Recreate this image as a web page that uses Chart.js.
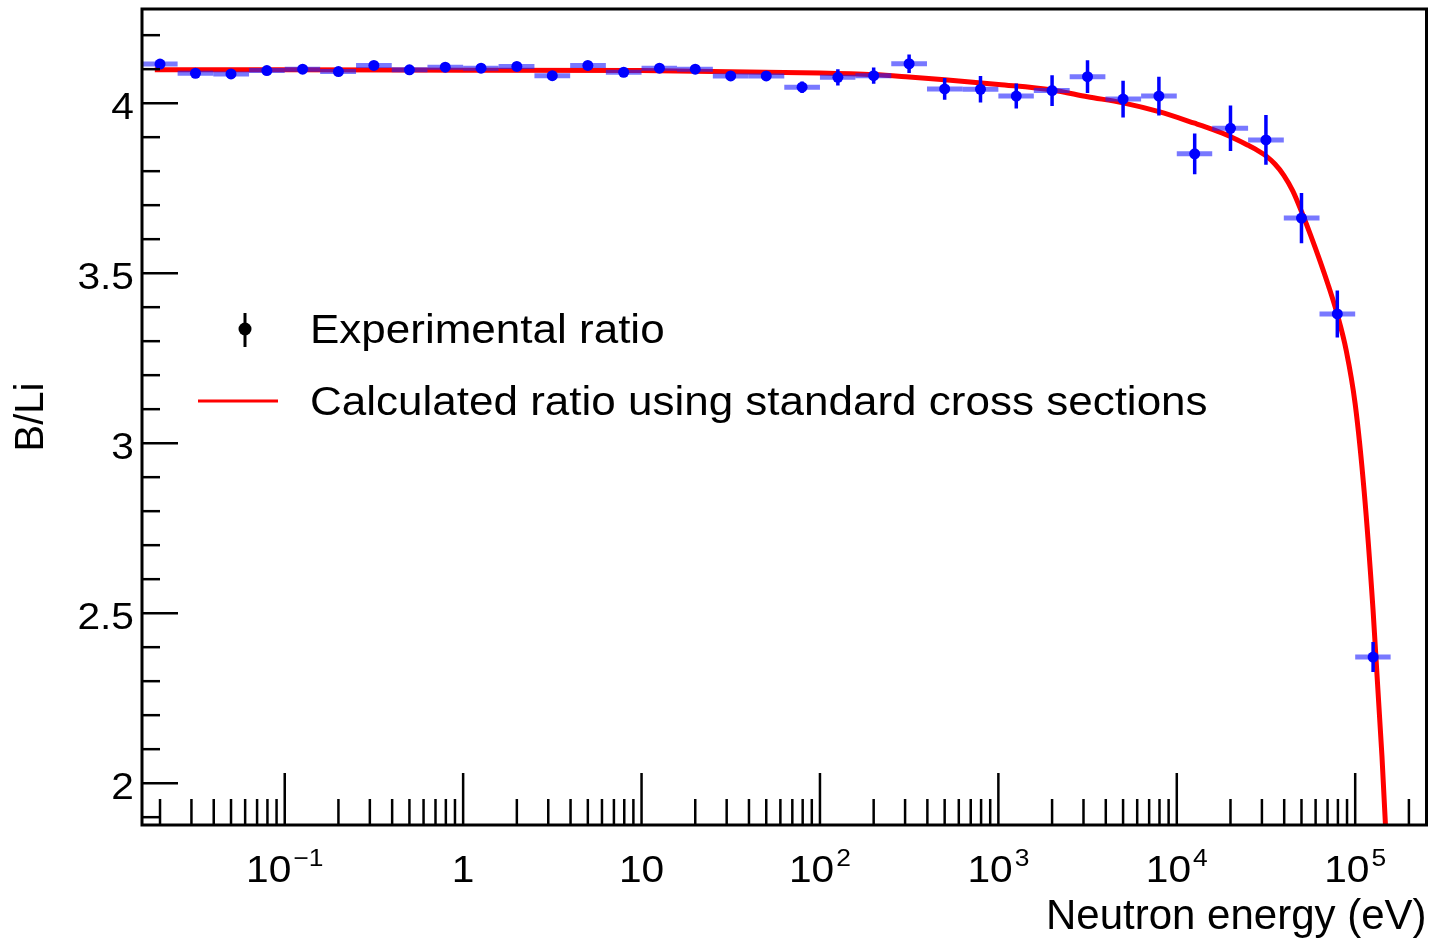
<!DOCTYPE html>
<html>
<head>
<meta charset="utf-8">
<title>B/Li ratio</title>
<script src="https://cdn.jsdelivr.net/npm/chart.js@4.4.1/dist/chart.umd.min.js"></script>
<style>
  html, body { margin: 0; padding: 0; background: #fff; }
  canvas { display: block; }
</style>
</head>
<body>
<canvas id="ratioChart" width="1432" height="945"></canvas>
<script>
// Bin centres (eV), bin edges and the measured B/Li ratio
const energies = [0.02, 0.0316, 0.05, 0.0794, 0.126, 0.2, 0.316, 0.5, 0.794, 1.26,
  2, 3.16, 5, 7.94, 12.6, 20, 31.6, 50, 79.4, 126,
  200, 316, 500, 794, 1260, 2000, 3160, 5000, 7940, 12600,
  20000, 31600, 50000, 79400, 126000];
const binEdges = [0.0158, 0.0251, 0.0398, 0.0631, 0.1, 0.158, 0.251, 0.398, 0.631, 1,
  1.58, 2.51, 3.98, 6.31, 10, 15.8, 25.1, 39.8, 63.1, 100,
  158, 251, 398, 631, 1000, 1580, 2510, 3980, 6310, 10000,
  15800, 25100, 39800, 63100, 100000, 158000];
const ratio = [4.115, 4.088, 4.086, 4.096, 4.100, 4.093, 4.111, 4.098, 4.106, 4.103,
  4.108, 4.081, 4.111, 4.091, 4.103, 4.100, 4.080, 4.080, 4.047, 4.076,
  4.081, 4.116, 4.042, 4.041, 4.021, 4.037, 4.078, 4.012, 4.021, 3.851,
  3.926, 3.892, 3.662, 3.380, 2.371];
const ratioErr = [0.008, 0.008, 0.008, 0.008, 0.008, 0.008, 0.008, 0.008, 0.008, 0.008,
  0.010, 0.010, 0.010, 0.010, 0.010, 0.010, 0.012, 0.012, 0.017, 0.024,
  0.024, 0.027, 0.032, 0.039, 0.037, 0.045, 0.048, 0.054, 0.057, 0.060,
  0.067, 0.073, 0.074, 0.069, 0.044];

// Ratio calculated from the standard cross sections
const curveEnergy = [0.0187, 0.1, 1, 10, 100, 200, 316, 500, 1000, 2000,
  3160, 5000, 7940, 12600, 15850, 19950, 25120, 28180, 31620, 35480,
  39810, 44670, 50120, 56230, 63100, 70800, 79430, 89130, 100000, 112200,
  125900, 141250, 158500];
const curveRatio = [4.098, 4.098, 4.097, 4.096, 4.089, 4.084, 4.077, 4.069, 4.055, 4.039,
  4.019, 4.001, 3.975, 3.941, 3.923, 3.902, 3.876, 3.862, 3.845, 3.821,
  3.788, 3.742, 3.680, 3.612, 3.540, 3.463, 3.378, 3.272, 3.115, 2.860,
  2.510, 2.080, 1.560];

// Axis labels
const yTickValues = [2, 2.5, 3, 3.5, 4];
const yTickText = ['2', '2.5', '3', '3.5', '4'];
const xTickValues = [0.1, 1, 10, 100, 1000, 10000, 100000];
const xTickBase = ['10', '1', '10', '10', '10', '10', '10'];
const xTickExp = ['\u22121', '', '', '2', '3', '4', '5'];

const FONT = '"Liberation Sans", Arial, Helvetica, sans-serif';
const STRETCH = 1.1;

function wideText(ctx, text, x, y, align) {
  ctx.save();
  ctx.translate(x, y);
  ctx.scale(STRETCH, 1);
  ctx.textAlign = align;
  ctx.fillText(text, 0, 0);
  ctx.restore();
}

// horizontal bin-width bars and vertical uncertainty bars, under the markers
const errorBars = {
  id: 'errorBars',
  beforeDatasetDraw(chart, args) {
    if (args.index !== 1) return;
    const { ctx, chartArea: a, scales: { x, y } } = chart;
    ctx.save();
    ctx.beginPath();
    ctx.rect(a.left, a.top, a.right - a.left, a.bottom - a.top);
    ctx.clip();
    ctx.lineCap = 'butt';
    energies.forEach((e, i) => {
      const px = x.getPixelForValue(e);
      const py = y.getPixelForValue(ratio[i]);
      ctx.strokeStyle = 'rgba(30, 30, 255, 0.6)';
      ctx.lineWidth = 5;
      ctx.beginPath();
      ctx.moveTo(x.getPixelForValue(binEdges[i]), py);
      ctx.lineTo(x.getPixelForValue(binEdges[i + 1]), py);
      ctx.stroke();
      ctx.strokeStyle = '#0000ff';
      ctx.lineWidth = 3.5;
      ctx.beginPath();
      ctx.moveTo(px, y.getPixelForValue(ratio[i] - ratioErr[i]));
      ctx.lineTo(px, y.getPixelForValue(ratio[i] + ratioErr[i]));
      ctx.stroke();
    });
    ctx.restore();
  }
};

// frame, inward ticks, tick labels and the legend box
const frameAndLegend = {
  id: 'frameAndLegend',
  afterDraw(chart) {
    const { ctx, chartArea: a, scales: { x, y } } = chart;
    ctx.save();
    ctx.strokeStyle = '#000';
    ctx.fillStyle = '#000';
    ctx.lineCap = 'butt';

    // y ticks every 0.1, major every 0.5
    ctx.lineWidth = 2.5;
    for (let k = 19; k <= 42; k++) {
      const py = y.getPixelForValue(k / 10);
      const len = k % 5 === 0 ? 36 : 18;
      ctx.beginPath();
      ctx.moveTo(a.left, py);
      ctx.lineTo(a.left + len, py);
      ctx.stroke();
    }

    // log x ticks
    for (let d = -2; d <= 5; d++) {
      for (let m = 1; m <= 9; m++) {
        const v = m * Math.pow(10, d);
        if (v < x.min || v > x.max) continue;
        const px = x.getPixelForValue(v);
        const len = m === 1 ? 52 : 26;
        ctx.beginPath();
        ctx.moveTo(px, a.bottom);
        ctx.lineTo(px, a.bottom - len);
        ctx.stroke();
      }
    }

    // frame
    ctx.lineWidth = 3;
    ctx.strokeRect(a.left, a.top, a.right - a.left, a.bottom - a.top);

    // y tick labels
    ctx.font = '37px ' + FONT;
    ctx.textBaseline = 'alphabetic';
    yTickValues.forEach((v, i) => {
      const py = y.getPixelForValue(v);
      wideText(ctx, yTickText[i], a.left - 8, py + 16, 'right');
    });

    // x tick labels with exponents
    const baseY = 882;
    xTickValues.forEach((v, i) => {
      const px = x.getPixelForValue(v);
      ctx.font = '37px ' + FONT;
      const w1 = ctx.measureText(xTickBase[i]).width * STRETCH;
      ctx.font = '24px ' + FONT;
      const w2 = xTickExp[i] ? ctx.measureText(xTickExp[i]).width * STRETCH + 2 : 0;
      const start = px - (w1 + w2) / 2;
      ctx.font = '37px ' + FONT;
      wideText(ctx, xTickBase[i], start, baseY, 'left');
      if (xTickExp[i]) {
        ctx.font = '24px ' + FONT;
        wideText(ctx, xTickExp[i], start + w1 + 2, baseY - 16, 'left');
      }
    });

    // legend
    ctx.lineWidth = 3;
    ctx.beginPath();
    ctx.moveTo(245, 313);
    ctx.lineTo(245, 347);
    ctx.stroke();
    ctx.beginPath();
    ctx.arc(245, 329, 6.5, 0, Math.PI * 2);
    ctx.fill();
    ctx.strokeStyle = '#ff0000';
    ctx.beginPath();
    ctx.moveTo(198, 401);
    ctx.lineTo(278, 401);
    ctx.stroke();
    ctx.font = '40px ' + FONT;
    ctx.fillStyle = '#000';
    wideText(ctx, 'Experimental ratio', 310, 343, 'left');
    wideText(ctx, 'Calculated ratio using standard cross sections', 310, 415, 'left');
    ctx.restore();
  }
};

const ctx = document.getElementById('ratioChart').getContext('2d');
new Chart(ctx, {
  type: 'scatter',
  data: {
    datasets: [{
      type: 'line',
      label: 'Calculated ratio using standard cross sections',
      data: curveEnergy.map((e, i) => ({ x: e, y: curveRatio[i] })),
      borderColor: '#ff0000',
      borderWidth: 5,
      pointRadius: 0,
      cubicInterpolationMode: 'monotone',
      fill: false,
      order: 2
    }, {
      label: 'Experimental ratio',
      data: energies.map((e, i) => ({ x: e, y: ratio[i] })),
      backgroundColor: '#0000ff',
      borderWidth: 0,
      pointRadius: 5.5,
      order: 1
    }]
  },
  options: {
    responsive: false,
    animation: false,
    devicePixelRatio: 1,
    layout: { padding: { top: 9, right: 5, left: 0, bottom: 0 } },
    plugins: {
      legend: { display: false },
      tooltip: { enabled: false }
    },
    scales: {
      x: {
        type: 'logarithmic',
        min: 0.01585,
        max: 251000,
        grid: { display: false },
        border: { display: false },
        ticks: { display: false },
        title: {
          display: true,
          text: 'Neutron energy (eV)',
          align: 'end',
          color: '#000',
          font: { family: FONT, size: 42 },
          padding: { top: 0, bottom: 2 }
        },
        afterFit(scale) { scale.height = 120; }
      },
      y: {
        type: 'linear',
        min: 1.877,
        max: 4.277,
        grid: { display: false },
        border: { display: false },
        ticks: { display: false },
        title: {
          display: true,
          text: 'B/Li',
          color: '#000',
          font: { family: FONT, size: 40 },
          padding: { top: 8, bottom: 0 }
        },
        afterFit(scale) { scale.width = 142; }
      }
    }
  },
  plugins: [errorBars, frameAndLegend]
});
</script>
</body>
</html>
